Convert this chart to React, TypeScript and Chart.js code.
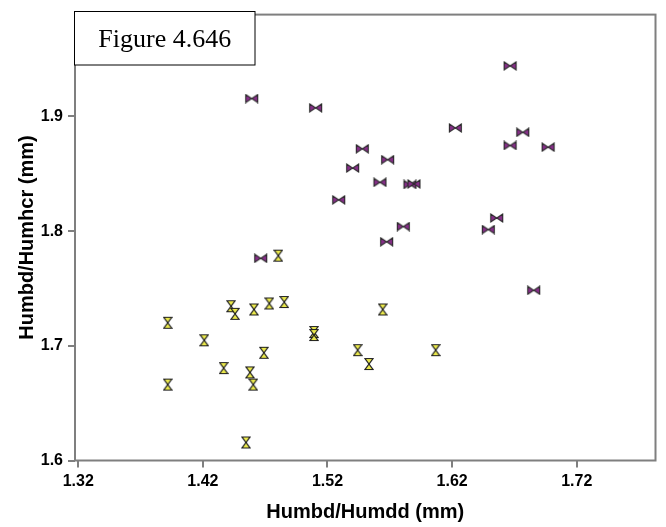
import React, { useEffect, useRef } from "react";
import { Chart, registerables } from "chart.js";

Chart.register(...registerables);

// Group 1 (purple bow-tie markers)
const purpleX = [1.4592, 1.5105, 1.6665, 1.6226, 1.6767, 1.6665, 1.697, 1.5479, 1.5683, 1.5402, 1.5621, 1.5862, 1.5894, 1.529, 1.5808, 1.6558, 1.649, 1.5675, 1.6855, 1.4664];
const purpleY = [1.9156, 1.9075, 1.9441, 1.89, 1.8862, 1.8747, 1.8732, 1.8718, 1.8623, 1.855, 1.8426, 1.8407, 1.8412, 1.8273, 1.804, 1.8115, 1.8014, 1.7907, 1.7484, 1.7763];

// Group 2 (yellow hourglass markers)
const yellowX = [1.3918, 1.4211, 1.4426, 1.4458, 1.461, 1.4733, 1.4853, 1.469, 1.4367, 1.4578, 1.4604, 1.3918, 1.4546, 1.4805, 1.5643, 1.5092, 1.5092, 1.5442, 1.5533, 1.6068];
const yellowY = [1.7201, 1.7048, 1.7345, 1.7279, 1.7317, 1.7369, 1.7382, 1.6939, 1.6806, 1.6768, 1.6662, 1.6662, 1.6157, 1.7786, 1.7317, 1.712, 1.7094, 1.6962, 1.6841, 1.6962];

const xTicks = [1.32, 1.42, 1.52, 1.62, 1.72];
const yTicks = [1.6, 1.7, 1.8, 1.9];
const xMin = 1.3174;
const xMax = 1.7832;
const yMin = 1.6;
const yMax = 1.9888;

const xTitle = "Humbd/Humdd (mm)";
const yTitle = "Humbd/Humhcr (mm)";
const figureLabel = "Figure 4.646";

function makeBowtie(): HTMLCanvasElement {
  const c = document.createElement("canvas");
  c.width = 15;
  c.height = 10;
  const g = c.getContext("2d")!;
  g.fillStyle = "#862f88";
  g.strokeStyle = "#2a2a2a";
  g.lineWidth = 1.1;
  g.beginPath();
  g.moveTo(1.5, 1);
  g.lineTo(1.5, 9);
  g.lineTo(7.5, 5);
  g.closePath();
  g.moveTo(13.5, 1);
  g.lineTo(13.5, 9);
  g.lineTo(7.5, 5);
  g.closePath();
  g.fill();
  g.stroke();
  return c;
}

function makeHourglass(): HTMLCanvasElement {
  const c = document.createElement("canvas");
  c.width = 10;
  c.height = 14;
  const g = c.getContext("2d")!;
  g.fillStyle = "#ecea4c";
  g.strokeStyle = "#1e1e1e";
  g.lineWidth = 1.2;
  g.beginPath();
  g.moveTo(1, 1.5);
  g.lineTo(9, 1.5);
  g.lineTo(5, 7);
  g.closePath();
  g.moveTo(1, 12.5);
  g.lineTo(9, 12.5);
  g.lineTo(5, 7);
  g.closePath();
  g.fill();
  g.stroke();
  return c;
}

const framePlugin = {
  id: "frameAndLabel",
  afterDatasetsDraw(chart: any) {
    const { ctx, chartArea } = chart;
    ctx.save();
    ctx.strokeStyle = "#7f7f7f";
    ctx.lineWidth = 2;
    ctx.strokeRect(chartArea.left, chartArea.top, chartArea.right - chartArea.left, chartArea.bottom - chartArea.top);
    // figure label box
    const bx = 74.5, by = 11.5, bw = 180.5, bh = 53.5;
    ctx.fillStyle = "#ffffff";
    ctx.fillRect(bx, by, bw, bh);
    ctx.strokeStyle = "#000000";
    ctx.lineWidth = 1;
    ctx.strokeRect(bx, by, bw, bh);
    ctx.fillStyle = "#000000";
    ctx.font = "26px 'Liberation Serif', 'Times New Roman', serif";
    ctx.textAlign = "center";
    ctx.textBaseline = "alphabetic";
    ctx.fillText(figureLabel, bx + bw / 2, 47);
    ctx.restore();
  },
};

export default function App() {
  const ref = useRef<HTMLCanvasElement | null>(null);

  useEffect(() => {
    if (!ref.current) return;
    const bow = makeBowtie();
    const hour = makeHourglass();
    const tickFont = { family: "'Liberation Sans', Arial, sans-serif", size: 16, weight: "bold" as const };
    const chart = new Chart(ref.current, {
      type: "scatter",
      data: {
        datasets: [
          {
            label: "A",
            data: purpleX.map((x, i) => ({ x, y: purpleY[i] })),
            pointStyle: bow as any,
            pointRadius: 6,
          },
          {
            label: "B",
            data: yellowX.map((x, i) => ({ x, y: yellowY[i] })),
            pointStyle: hour as any,
            pointRadius: 6,
          },
        ],
      },
      options: {
        animation: false,
        responsive: false,
        devicePixelRatio: 1,
        layout: { padding: { top: 11, right: 10.5, left: 0, bottom: 0 } },
        plugins: { legend: { display: false }, tooltip: { enabled: false } },
        scales: {
          x: {
            type: "linear",
            min: xMin,
            max: xMax,
            afterBuildTicks: (s: any) => {
              s.ticks = xTicks.map((v) => ({ value: v }));
            },
            afterFit: (s: any) => {
              s.height = 66.5;
            },
            grid: { drawOnChartArea: false, drawTicks: true, tickLength: 7, color: "#7f7f7f", lineWidth: 2 },
            border: { display: false },
            ticks: {
              color: "#000",
              font: tickFont,
              padding: 4,
              maxRotation: 0,
              callback: (v: any) => Number(v).toFixed(2),
            },
            title: {
              display: true,
              text: xTitle,
              color: "#000",
              font: { family: "'Liberation Sans', Arial, sans-serif", size: 20, weight: "bold" },
              padding: { top: 0, bottom: 3 },
            },
          },
          y: {
            type: "linear",
            min: yMin,
            max: yMax,
            afterBuildTicks: (s: any) => {
              s.ticks = yTicks.map((v) => ({ value: v }));
            },
            afterFit: (s: any) => {
              s.width = 75;
            },
            grid: { drawOnChartArea: false, drawTicks: true, tickLength: 7, color: "#7f7f7f", lineWidth: 2 },
            border: { display: false },
            ticks: {
              color: "#000",
              font: tickFont,
              padding: 5,
              callback: (v: any) => Number(v).toFixed(1),
            },
            title: {
              display: true,
              text: yTitle,
              color: "#000",
              font: { family: "'Liberation Sans', Arial, sans-serif", size: 20, weight: "bold" },
              padding: { top: 15, bottom: 0 },
            },
          },
        },
      },
      plugins: [framePlugin],
    });
    return () => chart.destroy();
  }, []);

  return (
    <div style={{ position: "absolute", left: 0, top: 0, width: 666, height: 527, background: "#fff" }}>
      <canvas ref={ref} width={666} height={527} style={{ display: "block", width: 666, height: 527 }} />
    </div>
  );
}
